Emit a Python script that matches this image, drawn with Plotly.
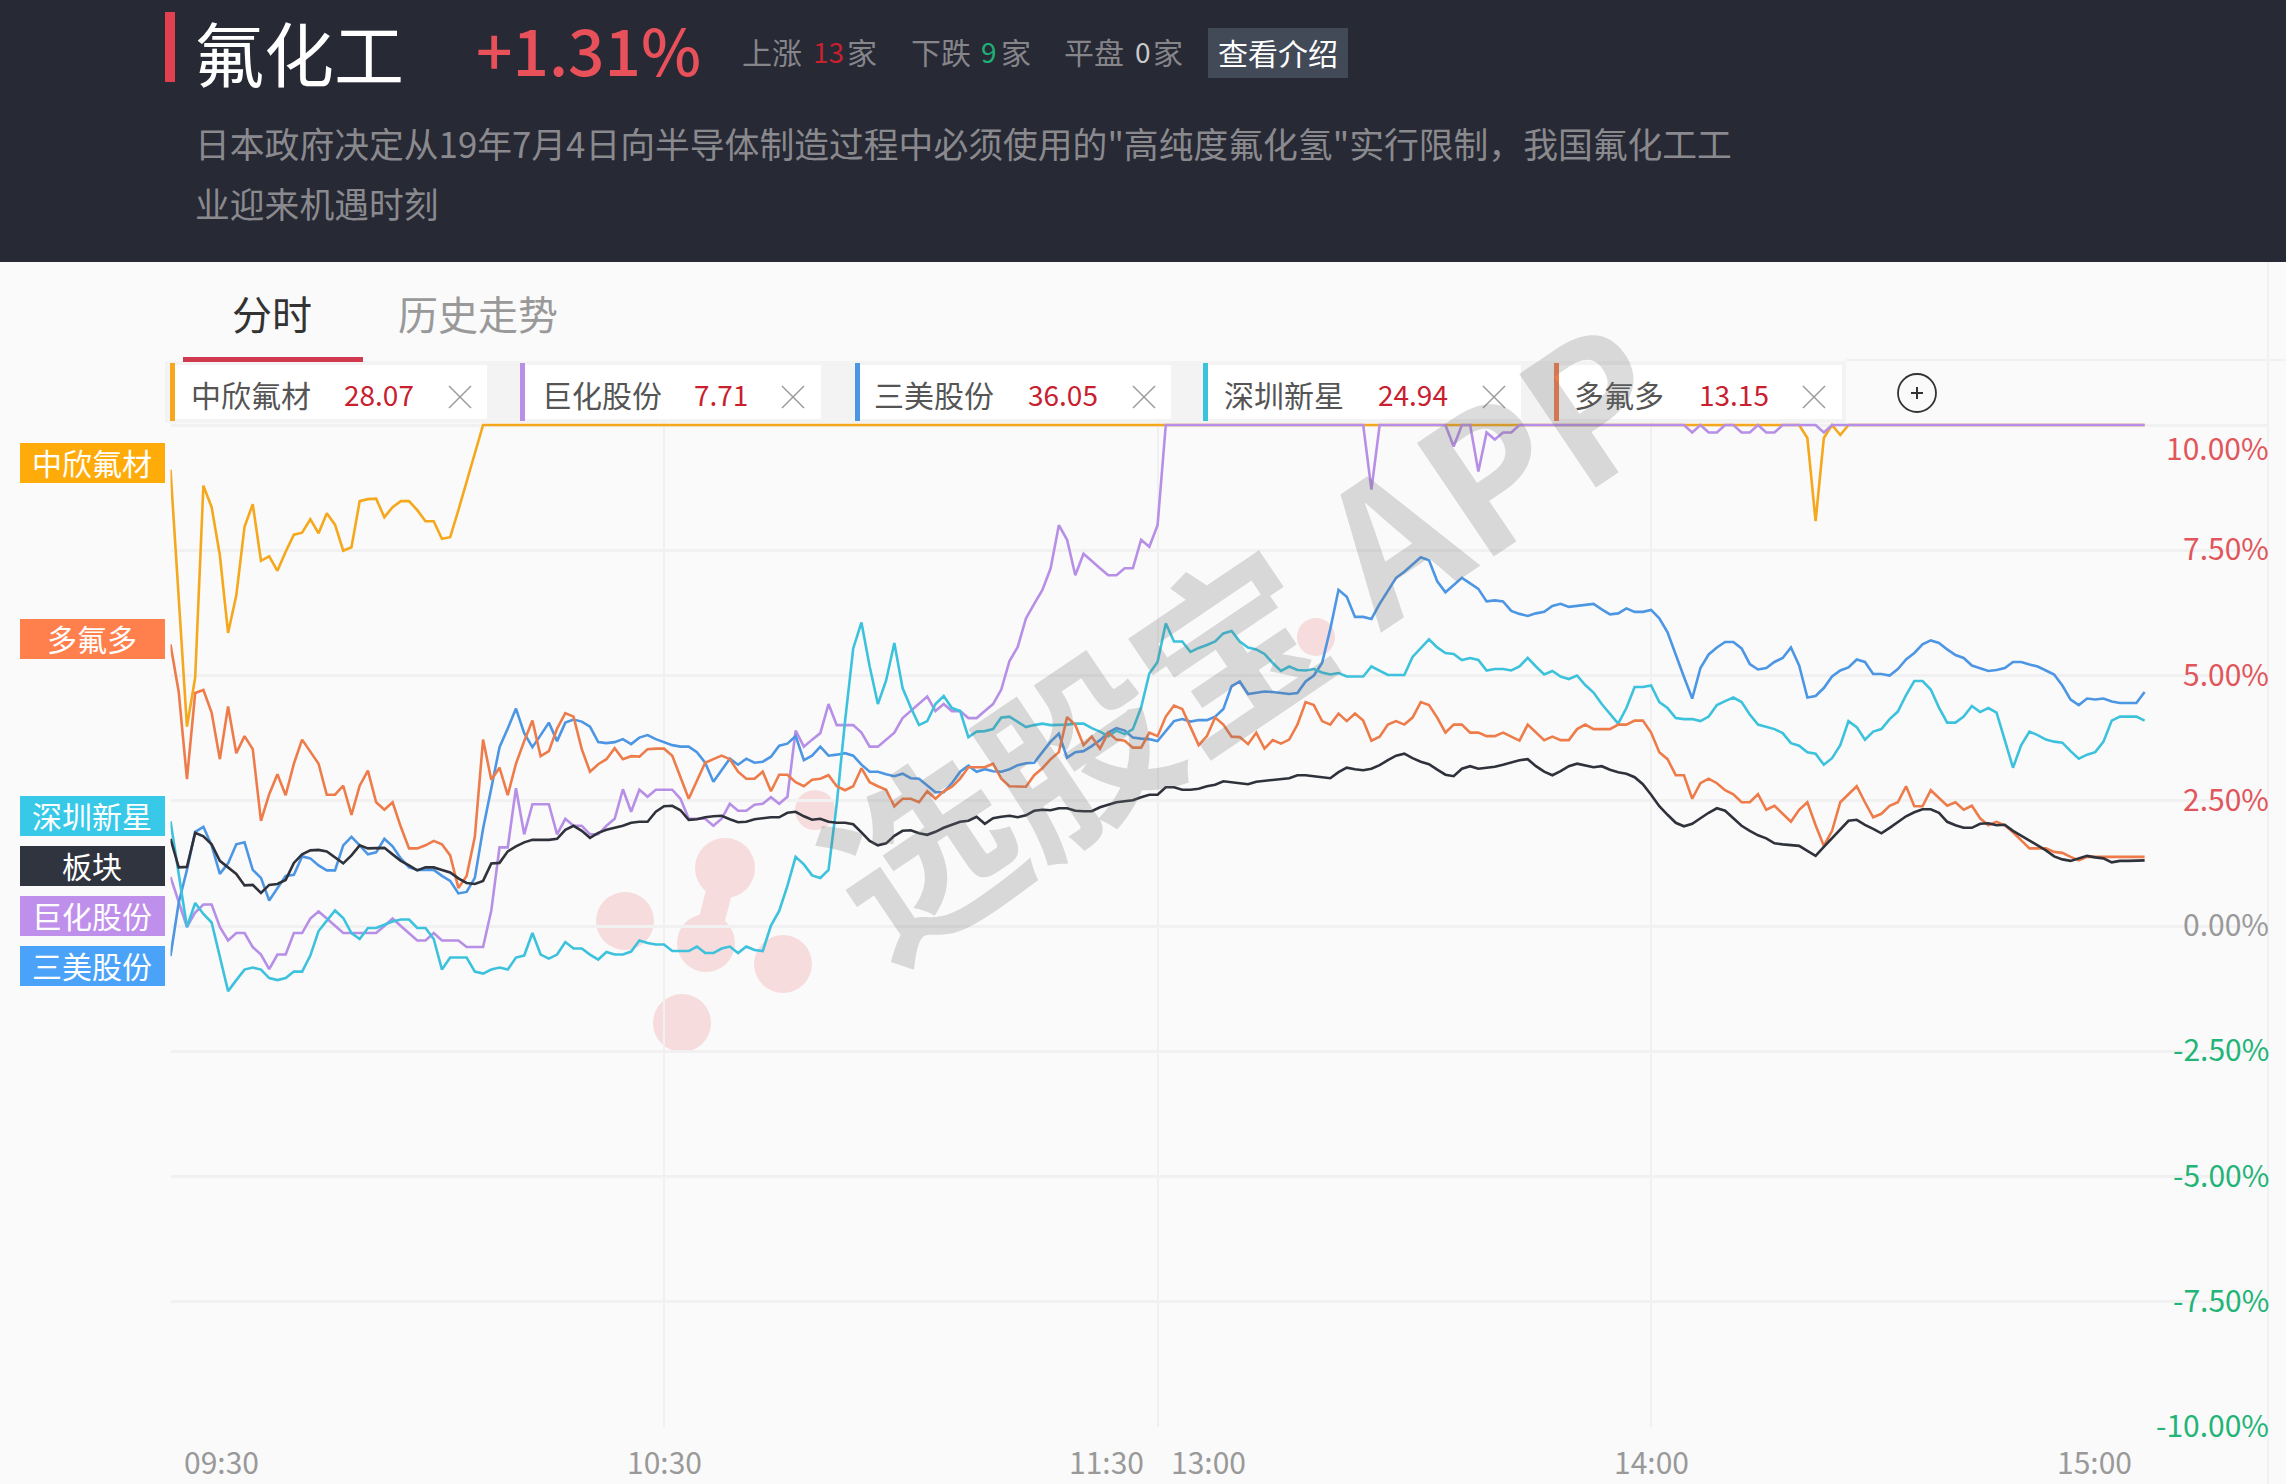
import plotly.graph_objects as go

W, H = 2286, 1484
FONT = "Noto Sans CJK SC"

# minutes since 09:30, lunch break removed (120 = 11:30 / 13:00)
MINUTES = list(range(241))

# daily change in %, limit-up stretches only keep their end points
zhongxin_min = list(range(39)) + [198, 199, 200, 201, 202, 203, 204, 240]
zhongxin = [9.11, 6.54, 3.98, 4.96, 8.79, 8.36, 7.4, 5.85, 6.6, 7.97,
            8.42, 7.29, 7.38, 7.09, 7.47, 7.81, 7.85, 8.12, 7.84, 8.24,
            8.01, 7.49, 7.56, 8.48, 8.52, 8.53, 8.16, 8.36, 8.48, 8.48,
            8.3, 8.08, 8.08, 7.73, 7.76, 8.3, 8.87, 9.44, 10.0,
            10.0, 9.74, 8.08, 9.74, 10.0, 9.8, 10.0, 10.0]

juhua_min = list(range(122)) + [145, 146, 147, 155, 156, 157, 158, 159, 160, 161, 162, 163, 164,
                                184, 185, 186, 187, 188, 189, 190, 191, 192, 193, 194, 195, 196,
                                200, 201, 202, 240]
juhua = [0.98, 0.47, -0.02, 0.27, 0.43, 0.43, -0.02, -0.29, -0.14, -0.14,
         -0.42, -0.57, -0.86, -0.57, -0.57, -0.14, -0.14, 0.15, 0.29, 0.15,
         0.0, -0.14, -0.14, -0.14, -0.14, -0.14, 0.0, 0.15, 0.0, -0.14,
         -0.29, -0.29, -0.14, -0.29, -0.29, -0.29, -0.42, -0.42, -0.42, 0.31,
         1.57, 1.57, 2.75, 1.83, 2.43, 2.43, 2.43, 1.83, 2.14, 2.0,
         2.0, 1.83, 1.83, 2.0, 2.14, 2.73, 2.28, 2.72, 2.58, 2.72,
         2.72, 2.72, 2.54, 2.14, 2.14, 2.14, 2.0, 2.14, 2.44, 2.3,
         2.3, 2.42, 2.44, 2.57, 2.44, 2.58, 3.9, 3.58, 3.72, 3.85,
         4.43, 4.01, 4.01, 4.01, 3.86, 3.58, 3.58, 3.72, 3.86, 4.15,
         4.29, 4.43, 4.58, 4.29, 4.43, 4.29, 4.29, 4.15, 4.15, 4.29,
         4.43, 4.72, 5.29, 5.57, 6.14, 6.43, 6.71, 7.14, 8.0, 7.71,
         7.0, 7.43, 7.28, 7.14, 7.0, 7.0, 7.14, 7.14, 7.71, 7.57,
         8.0, 10.0,
         10.0, 8.71, 10.0, 10.0, 9.57, 10.0, 10.0, 9.07, 9.85, 9.71, 9.85, 9.85, 10.0,
         10.0, 9.85, 10.0, 9.85, 9.85, 10.0, 10.0, 9.85, 9.85, 10.0, 9.85, 9.85, 10.0,
         10.0, 9.85, 10.0, 10.0]

sanmei = [-0.6, 0.47, 1.12, 1.88, 1.98, 1.61, 1.04, 1.25, 1.63, 1.67,
          1.12, 0.96, 0.51, 0.76, 1.0, 1.02, 1.39, 1.35, 1.21, 1.11,
          1.11, 1.61, 1.78, 1.61, 1.43, 1.47, 1.74, 1.59, 1.35, 1.17,
          1.12, 1.12, 1.12, 1.0, 0.9, 0.65, 0.68, 0.96, 1.94, 2.75,
          3.57, 3.94, 4.34, 3.85, 3.57, 3.81, 4.06, 3.69, 4.06, 4.12,
          4.08, 3.98, 3.67, 3.65, 3.67, 3.73, 3.63, 3.76, 3.81, 3.73,
          3.67, 3.61, 3.58, 3.58, 3.47, 3.26, 2.88, 3.11, 3.34, 3.22,
          3.34, 3.26, 3.28, 3.38, 3.6, 3.64, 3.79, 3.31, 3.4, 3.58,
          3.4, 3.42, 3.45, 3.4, 3.22, 3.08, 3.08, 3.03, 2.99, 3.04,
          2.95, 2.94, 2.81, 2.67, 2.67, 2.85, 3.08, 3.2, 3.08, 3.13,
          3.09, 3.08, 3.13, 3.21, 3.25, 3.26, 3.47, 3.68, 3.84, 3.36,
          3.47, 3.49, 3.59, 3.71, 3.86, 3.95, 3.9, 3.76, 3.74, 3.73,
          3.69, 3.9, 4.09, 4.13, 4.08, 4.11, 4.11, 4.18, 4.33, 4.79,
          4.88, 4.63, 4.66, 4.68, 4.67, 4.65, 4.63, 4.65, 4.88, 5.0,
          5.25, 5.93, 6.71, 6.57, 6.17, 6.17, 6.13, 6.43, 6.69, 6.95,
          7.07, 7.21, 7.36, 7.3, 6.88, 6.66, 6.8, 6.95, 6.84, 6.73,
          6.48, 6.5, 6.48, 6.29, 6.23, 6.19, 6.24, 6.27, 6.39, 6.43,
          6.37, 6.39, 6.4, 6.43, 6.32, 6.22, 6.24, 6.34, 6.27, 6.27,
          6.31, 6.14, 5.86, 5.4, 4.97, 4.54, 5.15, 5.42, 5.56, 5.67,
          5.67, 5.54, 5.23, 5.12, 5.15, 5.27, 5.35, 5.56, 5.2, 4.56,
          4.59, 4.75, 4.98, 5.1, 5.16, 5.32, 5.27, 5.03, 5.03, 5.0,
          5.13, 5.32, 5.45, 5.62, 5.7, 5.65, 5.52, 5.41, 5.35, 5.2,
          5.15, 5.09, 5.11, 5.15, 5.27, 5.27, 5.22, 5.18, 5.1, 5.02,
          4.8, 4.52, 4.41, 4.54, 4.52, 4.54, 4.48, 4.45, 4.45, 4.45, 4.67]

shenzhen = [2.09, 1.04, -0.02, 0.46, 0.24, 0.07, -0.63, -1.3, -1.08, -0.87,
            -0.83, -0.87, -1.04, -1.08, -1.04, -0.91, -0.91, -0.59, -0.1, 0.11,
            0.31, 0.16, -0.14, -0.26, -0.04, -0.04, 0.02, 0.09, 0.13, 0.13,
            -0.04, -0.04, -0.26, -0.87, -0.63, -0.63, -0.63, -0.91, -0.95, -0.87,
            -0.83, -0.87, -0.63, -0.59, -0.14, -0.57, -0.65, -0.57, -0.32, -0.45,
            -0.45, -0.57, -0.67, -0.52, -0.57, -0.57, -0.51, -0.29, -0.34, -0.37,
            -0.37, -0.5, -0.5, -0.5, -0.41, -0.54, -0.54, -0.45, -0.41, -0.54,
            -0.41, -0.48, -0.5, 0.01, 0.3, 0.8, 1.38, 1.23, 1.01, 0.96,
            1.12, 2.44, 4.08, 5.54, 6.06, 5.18, 4.43, 4.9, 5.65, 4.75,
            4.36, 4.01, 4.09, 4.43, 4.59, 4.35, 4.29, 3.77, 3.88, 3.89,
            3.93, 4.16, 4.18, 4.08, 3.97, 4.01, 4.04, 4.01, 4.01, 4.02,
            4.04, 4.04, 3.95, 3.88, 3.79, 3.9, 3.83, 3.93, 4.36, 5.04,
            5.27, 6.04, 5.68, 5.68, 5.47, 5.55, 5.61, 5.68, 5.84, 5.89,
            5.68, 5.56, 5.52, 5.43, 5.25, 5.09, 5.18, 5.11, 5.1, 5.13,
            5.06, 5.02, 5.05, 4.98, 4.98, 4.98, 5.18, 5.1, 5.01, 5.01,
            5.01, 5.37, 5.54, 5.72, 5.56, 5.45, 5.43, 5.31, 5.35, 5.31,
            5.1, 5.13, 5.13, 5.1, 5.18, 5.35, 5.18, 5.02, 5.09, 4.98,
            4.93, 5.0, 4.81, 4.66, 4.43, 4.23, 4.04, 4.35, 4.77, 4.77,
            4.8, 4.47, 4.35, 4.15, 4.13, 4.13, 4.09, 4.18, 4.41, 4.49,
            4.56, 4.47, 4.22, 4.02, 3.98, 3.93, 3.85, 3.65, 3.6, 3.47,
            3.44, 3.22, 3.35, 3.61, 4.09, 3.97, 3.72, 3.88, 3.93, 4.13,
            4.28, 4.61, 4.89, 4.89, 4.72, 4.36, 4.06, 4.06, 4.18, 4.39,
            4.27, 4.35, 4.26, 3.72, 3.16, 3.61, 3.88, 3.81, 3.72, 3.68,
            3.66, 3.49, 3.34, 3.42, 3.47, 3.68, 4.1, 4.18, 4.18, 4.18, 4.1]

duofu = [5.62, 4.67, 2.93, 4.65, 4.71, 4.26, 3.33, 4.38, 3.45, 3.79,
         3.53, 2.1, 2.63, 3.03, 2.61, 3.24, 3.72, 3.49, 3.24, 2.62,
         2.62, 2.8, 2.22, 2.8, 3.1, 2.47, 2.32, 2.47, 1.98, 1.55,
         1.55, 1.61, 1.7, 1.63, 1.41, 0.76, 1.0, 1.78, 3.72, 2.92,
         3.16, 2.61, 3.24, 3.69, 4.1, 3.39, 3.49, 3.94, 4.25, 4.18,
         3.53, 3.08, 3.23, 3.33, 3.55, 3.33, 3.39, 3.38, 3.53, 3.54,
         3.54, 3.4, 2.97, 2.54, 2.9, 3.26, 3.33, 3.4, 3.33, 3.08,
         2.94, 2.94, 3.08, 2.69, 3.02, 3.02, 2.87, 2.79, 2.92, 2.94,
         3.01, 2.79, 2.71, 2.79, 3.15, 2.87, 2.79, 2.72, 2.39, 2.54,
         2.54, 2.47, 2.69, 2.54, 2.69, 2.78, 2.94, 3.17, 3.17, 3.17,
         3.24, 2.94, 2.79, 2.78, 2.78, 3.01, 3.15, 3.33, 3.47, 4.17,
         4.01, 3.61, 3.78, 3.54, 3.86, 3.72, 3.7, 3.56, 3.56, 3.86,
         3.79, 4.18, 4.4, 4.33, 3.97, 3.61, 3.79, 4.16, 4.02, 3.78,
         3.77, 3.63, 3.86, 3.54, 3.71, 3.64, 3.72, 4.02, 4.47, 4.41,
         4.09, 4.02, 4.24, 4.09, 4.24, 4.1, 3.7, 3.78, 4.02, 4.09,
         4.02, 4.16, 4.47, 4.41, 4.16, 3.86, 4.02, 4.02, 3.86, 3.86,
         3.79, 3.79, 3.86, 3.78, 3.7, 4.02, 3.86, 3.71, 3.78, 3.71,
         3.71, 3.93, 4.02, 3.93, 3.93, 3.93, 4.02, 4.02, 4.1, 4.1,
         3.86, 3.47, 3.33, 3.01, 3.01, 2.54, 2.85, 2.94, 2.85, 2.71,
         2.63, 2.47, 2.47, 2.63, 2.32, 2.4, 2.24, 2.08, 2.32, 2.47,
         2.01, 1.6, 1.9, 2.47, 2.63, 2.79, 2.47, 2.17, 2.24, 2.4,
         2.47, 2.79, 2.39, 2.39, 2.71, 2.56, 2.4, 2.47, 2.32, 2.4,
         2.15, 2.01, 2.08, 2.01, 1.87, 1.71, 1.55, 1.55, 1.55, 1.48,
         1.46, 1.38, 1.31, 1.38, 1.38, 1.38, 1.38, 1.38, 1.38, 1.38, 1.38]

bankuai = [1.74, 1.17, 1.18, 1.86, 1.79, 1.63, 1.3, 1.17, 1.04, 0.81,
           0.82, 0.66, 0.82, 0.84, 0.92, 1.26, 1.43, 1.51, 1.52, 1.49,
           1.37, 1.25, 1.41, 1.61, 1.55, 1.56, 1.56, 1.43, 1.3, 1.21,
           1.11, 1.17, 1.17, 1.12, 1.07, 0.95, 0.86, 0.84, 0.9, 1.25,
           1.26, 1.49, 1.59, 1.67, 1.72, 1.72, 1.72, 1.74, 1.92, 2.0,
           1.9, 1.76, 1.86, 1.92, 1.96, 2.0, 2.06, 2.08, 2.08, 2.28,
           2.39, 2.4, 2.31, 2.12, 2.13, 2.17, 2.19, 2.2, 2.13, 2.07,
           2.08, 2.13, 2.15, 2.17, 2.17, 2.26, 2.28, 2.19, 2.12, 2.14,
           2.08, 2.06, 2.06, 2.03, 1.87, 1.7, 1.61, 1.65, 1.8, 1.9,
           1.91, 1.85, 1.82, 1.88, 1.96, 2.02, 2.08, 2.1, 2.18, 2.04,
           2.15, 2.18, 2.2, 2.17, 2.21, 2.3, 2.32, 2.31, 2.35, 2.35,
           2.3, 2.29, 2.29, 2.37, 2.42, 2.47, 2.49, 2.51, 2.57, 2.62,
           2.62, 2.77, 2.77, 2.72, 2.72, 2.74, 2.79, 2.82, 2.89, 2.87,
           2.84, 2.83, 2.88, 2.9, 2.91, 2.93, 2.95, 3.01, 3.01, 2.99,
           2.97, 2.95, 3.07, 3.16, 3.13, 3.11, 3.14, 3.21, 3.31, 3.4,
           3.44, 3.35, 3.28, 3.23, 3.12, 3.02, 2.99, 3.14, 3.19, 3.14,
           3.16, 3.18, 3.22, 3.26, 3.31, 3.33, 3.19, 3.08, 3.01, 3.09,
           3.19, 3.24, 3.21, 3.17, 3.19, 3.12, 3.07, 3.04, 2.97, 2.83,
           2.62, 2.39, 2.22, 2.06, 1.99, 2.04, 2.15, 2.26, 2.35, 2.3,
           2.15, 2.0, 1.9, 1.81, 1.75, 1.65, 1.63, 1.62, 1.6, 1.5,
           1.4, 1.58, 1.76, 1.94, 2.1, 2.12, 2.02, 1.94, 1.85, 1.96,
           2.08, 2.19, 2.27, 2.33, 2.33, 2.26, 2.08, 2.01, 1.96, 1.96,
           2.04, 2.05, 2.01, 2.02, 1.9, 1.8, 1.7, 1.6, 1.51, 1.39,
           1.33, 1.3, 1.35, 1.4, 1.37, 1.35, 1.27, 1.3, 1.3, 1.3, 1.31]

y_ticks = [10, 7.5, 5, 2.5, 0, -2.5, -5, -7.5, -10]
y_tick_labels = ["10.00%", "7.50%", "5.00%", "2.50%", "0.00%", "-2.50%", "-5.00%", "-7.50%", "-10.00%"]
x_grid = [60, 120, 180]
x_tick_labels = ["09:30", "10:30", "11:30", "13:00", "14:00", "15:00"]

card_names = ["中欣氟材", "巨化股份", "三美股份", "深圳新星", "多氟多"]
card_prices = ["28.07", "7.71", "36.05", "24.94", "13.15"]
tag_names = ["中欣氟材", "多氟多", "深圳新星", "板块", "巨化股份", "三美股份"]


def px(x):
    return x / W


def py(y):
    return 1 - y / H


fig = go.Figure()

# yellow first so the purple limit-up line sits on top of it, like the original
fig.add_trace(go.Scatter(x=zhongxin_min, y=zhongxin, mode="lines", line=dict(color="#f5a81c", width=2.6)))
fig.add_trace(go.Scatter(x=juhua_min, y=juhua, mode="lines", line=dict(color="#b78fe6", width=2.6)))
fig.add_trace(go.Scatter(x=MINUTES, y=sanmei, mode="lines", line=dict(color="#4c96e4", width=2.6)))
fig.add_trace(go.Scatter(x=MINUTES, y=shenzhen, mode="lines", line=dict(color="#3cc2dc", width=2.6)))
fig.add_trace(go.Scatter(x=MINUTES, y=duofu, mode="lines", line=dict(color="#ee7c4a", width=2.6)))
fig.add_trace(go.Scatter(x=MINUTES, y=bankuai, mode="lines", line=dict(color="#2f323b", width=2.6)))

shapes = []
annotations = []


def rect(x0, y0, x1, y1, color, layer="below"):
    shapes.append(dict(type="rect", xref="paper", yref="paper", x0=px(x0), x1=px(x1),
                       y0=py(y0), y1=py(y1), fillcolor=color, line_width=0, layer=layer))


def seg(x0, y0, x1, y1, color, width=1.5, layer="above"):
    shapes.append(dict(type="line", xref="paper", yref="paper", x0=px(x0), x1=px(x1),
                       y0=py(y0), y1=py(y1), line=dict(color=color, width=width), layer=layer))


def dot(cx, cy, r, color="#f6dcdc"):
    shapes.append(dict(type="circle", xref="paper", yref="paper", x0=px(cx - r), x1=px(cx + r),
                       y0=py(cy - r), y1=py(cy + r), fillcolor=color, line_width=0, layer="below"))


def text(x, y, s, size, color, anchor="left", weight=None, **kw):
    # Noto sits a little low compared with the original font
    font = dict(family=FONT, size=size, color=color)
    if weight:
        font["weight"] = weight
    annotations.append(dict(xref="paper", yref="paper", x=px(x), y=py(y - 2), text=s, showarrow=False,
                            xanchor=anchor, yanchor="middle", borderpad=0, font=font, **kw))


# header
rect(0, 0, W, 262, "#272935")
rect(165, 12, 175, 82, "#e2404f")
text(193, 53, "氟化工", 70, "#ffffff")
text(475, 50, "+1.31%", 64, "#e8505a", weight=500)
text(741, 53, "上涨", 30, "#85858a")
text(812, 53, "13", 28, "#c8202f")
text(846, 53, "家", 30, "#85858a")
text(910, 53, "下跌", 30, "#85858a")
text(980, 53, "9", 28, "#1fae74")
text(1000, 53, "家", 30, "#85858a")
text(1063, 53, "平盘", 30, "#85858a")
text(1134, 53, "0", 28, "#c9c9cc")
text(1152, 53, "家", 30, "#85858a")
rect(1208, 28, 1348, 78, "#434a57")
text(1278, 54, "查看介绍", 30, "#ffffff", anchor="center")
text(194, 145, "日本政府决定从19年7月4日向半导体制造过程中必须使用的\"高纯度氟化氢\"实行限制，我国氟化工工", 34.8, "#8a8a8e")
text(194, 205, "业迎来机遇时刻", 34.8, "#8a8a8e")

# tabs
text(231, 315, "分时", 40, "#333333")
text(397, 315, "历史走势", 40, "#999999")
rect(183, 357, 363, 362, "#d13a4e", layer="above")

# stock cards above the plot
seg(1846, 360, W, 360, "#f1f1f1", 2, layer="below")
seg(2268, 262, 2268, H, "#f1f1f1", 2, layer="below")
card_x0 = [170, 520, 855, 1203, 1554]
card_x1 = [487, 821, 1171, 1521, 1842]
card_colors = ["#f5a81c", "#b78fe6", "#4c96e4", "#3cc2dc", "#ee7c4a"]
name_x = [190, 541, 873, 1223, 1573]
price_x = [343, 693, 1027, 1377, 1698]
close_x = [460, 793, 1144, 1494, 1814]
rect(165, 361, 1846, 423, "#f3f3f3")
for i in range(5):
    rect(card_x0[i], 365, card_x1[i], 419, "#ffffff")
    rect(card_x0[i], 363, card_x0[i] + 5, 421, card_colors[i])
    text(name_x[i], 396, card_names[i], 30, "#555555")
    text(price_x[i], 396, card_prices[i], 28, "#c8202f")
    seg(close_x[i] - 11, 386, close_x[i] + 11, 408, "#999999")
    seg(close_x[i] - 11, 408, close_x[i] + 11, 386, "#999999")
shapes.append(dict(type="circle", xref="paper", yref="paper", x0=px(1898), x1=px(1936), y0=py(374), y1=py(412),
                   line=dict(color="#333333", width=1.8), layer="above"))
seg(1911, 393, 1923, 393, "#333333", 2)
seg(1917, 387, 1917, 399, "#333333", 2)

# stock tags to the left of the plot
tag_y = [443, 619, 796, 846, 896, 946]
tag_colors = ["#ffab0a", "#ff7f4d", "#38c9e8", "#30343f", "#bf8fec", "#4aa3f8"]
for i in range(6):
    rect(20, tag_y[i], 165, tag_y[i] + 40, tag_colors[i])
    text(92, tag_y[i] + 21, tag_names[i], 30, "#ffffff", anchor="center")

# watermark logo and text
dot(625, 921, 29)
dot(725, 868, 30)
dot(706, 943, 29)
dot(783, 964, 29)
dot(682, 1023, 29)
dot(815, 810, 20)
dot(1316, 637, 19)
seg(725, 868, 706, 943, "#f6dcdc", 26, layer="below")
text(1240, 632, "<b>选股宝 APP</b>", 185, "rgba(110,110,110,0.24)", anchor="center", textangle=-34)

# y labels, the 10% one is pushed down under the cards in the original
for val, lab in zip(y_ticks, y_tick_labels):
    color = "#e0565c" if val > 0 else ("#23b478" if val < 0 else "#999999")
    annotations.append(dict(xref="paper", yref="y", x=px(2270), y=val, text=lab, showarrow=False,
                            xanchor="right", yanchor="middle", borderpad=0,
                            yshift=-22 if val == 10 else 3,
                            font=dict(family=FONT, size=30, color=color)))

# x labels
x_label_pos = [183, 626, 1068, 1170, 1613, 2056]
for pos, lab in zip(x_label_pos, x_tick_labels):
    text(pos, 1463, lab, 30, "#999999")

fig.update_layout(
    width=W, height=H, autosize=False,
    margin=dict(l=0, r=0, t=0, b=0),
    paper_bgcolor="#fafafa", plot_bgcolor="rgba(0,0,0,0)",
    showlegend=False,
    shapes=shapes, annotations=annotations,
    font=dict(family=FONT),
)
fig.update_xaxes(domain=[px(170.5), px(2268)], range=[0, 255], tickvals=x_grid, showticklabels=False,
                 showgrid=True, gridcolor="#f0f0f0", gridwidth=2, zeroline=False, ticks="")
# a little headroom above 10% so the limit-up line is not cut in half
fig.update_yaxes(domain=[py(1427), py(421)], range=[-10, 10.08], tickvals=y_ticks, showticklabels=False,
                 showgrid=True, gridcolor="#f1f1f1", gridwidth=3, zeroline=False, ticks="")

fig.write_html("out.html", config={"displayModeBar": False},
               post_script="document.body.style.margin='0';document.body.style.overflow='hidden';")
